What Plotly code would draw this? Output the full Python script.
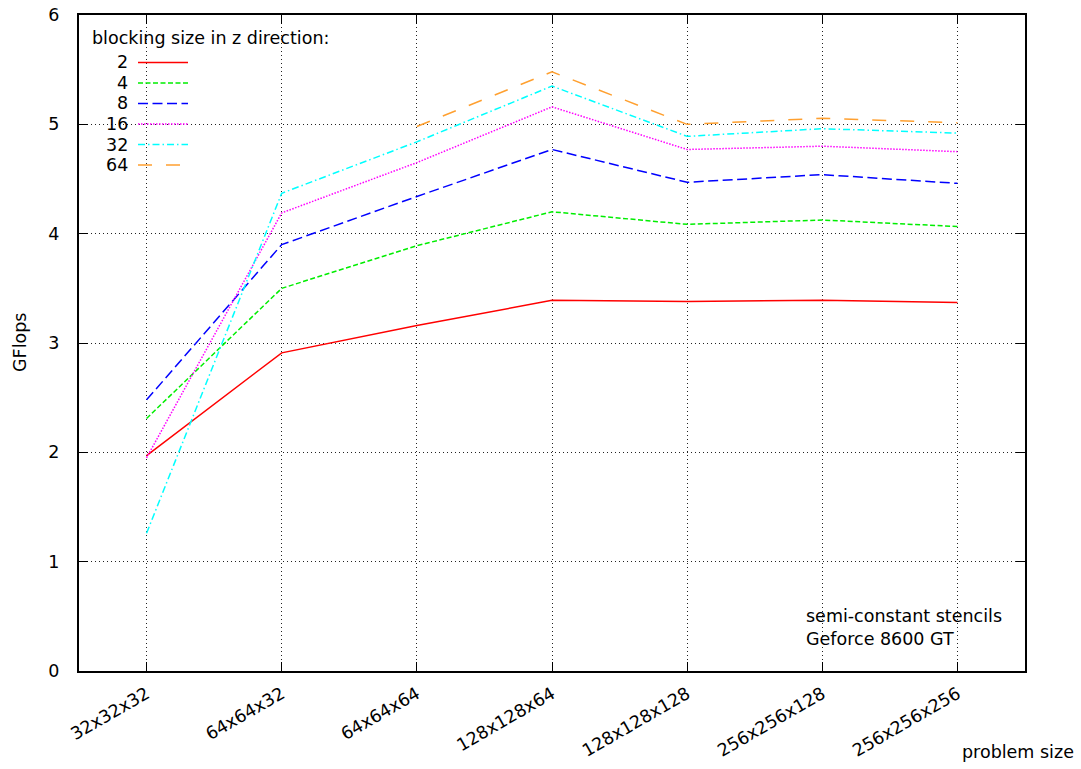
import plotly.graph_objects as go

# Problem sizes along the x axis
problem_sizes = ["32x32x32", "64x64x32", "64x64x64", "128x128x64",
                 "128x128x128", "256x256x128", "256x256x256"]

# GFlops per z-blocking size
gflops_bz2 = [1.97, 2.91, 3.16, 3.39, 3.38, 3.39, 3.37]
gflops_bz4 = [2.31, 3.50, 3.89, 4.20, 4.085, 4.125, 4.065]
gflops_bz8 = [2.48, 3.90, 4.34, 4.77, 4.47, 4.54, 4.46]
gflops_bz16 = [1.95, 4.19, 4.65, 5.16, 4.77, 4.80, 4.75]
gflops_bz32 = [1.26, 4.37, 4.84, 5.35, 4.89, 4.96, 4.92]
gflops_bz64 = [None, None, 4.98, 5.48, 5.00, 5.055, 5.015]

block_labels = ["2", "4", "8", "16", "32", "64"]
series = [gflops_bz2, gflops_bz4, gflops_bz8, gflops_bz16, gflops_bz32, gflops_bz64]
colors = ["#ff0000", "#00ee00", "#0000ff", "#ff00ff", "#00ffff", "#ffa030"]
dashes = ["solid", "5px,2.5px", "10px,4.5px", "1.5px,1.5px",
          "7px,3px,1.5px,3px", "14px,14px"]

FONT = "DejaVu Sans"
FS = 17.5

W, H = 1081, 769
L, R, T, B = 79, 1025, 15, 671


def px(x):
    return (x - L) / (R - L)


def py(y):
    return (B - y) / (B - T)


fig = go.Figure()
for lab, ys, col, dsh in zip(block_labels, series, colors, dashes):
    fig.add_trace(go.Scatter(
        x=problem_sizes, y=ys, mode="lines", name=lab,
        line=dict(color=col, width=1.5, dash=dsh),
        showlegend=False, connectgaps=False,
    ))

shapes = []
# white areas behind key and caption (hide grid there)
shapes.append(dict(type="rect", xref="paper", yref="paper",
                   x0=px(L), x1=px(331), y0=py(176), y1=py(T),
                   fillcolor="white", line=dict(width=0), layer="between"))
shapes.append(dict(type="rect", xref="paper", yref="paper",
                   x0=px(795), x1=px(1010), y0=py(652), y1=py(596),
                   fillcolor="white", line=dict(width=0), layer="between"))

annotations = []
annotations.append(dict(text="blocking size in z direction:", xref="paper", yref="paper",
                        x=px(90), y=py(38), xanchor="left", yanchor="middle",
                        showarrow=False, font=dict(family=FONT, size=FS, color="black")))
row_y = [62.5, 83, 103.5, 124, 144.5, 165]
for lab, col, dsh, yy in zip(block_labels, colors, dashes, row_y):
    annotations.append(dict(text=lab, xref="paper", yref="paper",
                            x=px(130), y=py(yy), xanchor="right", yanchor="middle",
                            showarrow=False, font=dict(family=FONT, size=FS, color="black")))
    shapes.append(dict(type="line", xref="paper", yref="paper",
                       x0=px(138), x1=px(188), y0=py(yy), y1=py(yy),
                       line=dict(color=col, width=1.5, dash=dsh), layer="above"))

annotations.append(dict(text="semi-constant stencils<br>Geforce 8600 GT", xref="paper", yref="paper",
                        x=px(804), y=py(627), xanchor="left", yanchor="middle", align="left",
                        showarrow=False, font=dict(family=FONT, size=FS, color="black")))
annotations.append(dict(text="problem size", xref="paper", yref="paper",
                        x=px(1076), y=py(752), xanchor="right", yanchor="middle",
                        showarrow=False, font=dict(family=FONT, size=FS, color="black")))
annotations.append(dict(text="GFlops", xref="paper", yref="paper",
                        x=px(20), y=py(343), xanchor="center", yanchor="middle",
                        textangle=-90,
                        showarrow=False, font=dict(family=FONT, size=FS, color="black")))

axis_common = dict(
    showline=True, linecolor="black", linewidth=2, mirror="ticks",
    ticks="inside", ticklen=9, tickwidth=1, tickcolor="black",
    showgrid=True, gridcolor="#222222", gridwidth=1, griddash="1px,3px",
    zeroline=False,
    tickfont=dict(family=FONT, size=FS, color="black"),
)

fig.update_layout(
    width=W, height=H,
    margin=dict(l=L, r=W - R, t=T, b=H - B, autoexpand=False),
    paper_bgcolor="white", plot_bgcolor="white",
    xaxis=dict(type="category", range=[-0.5, 6.5], tickangle=-30,
               ticklabelstandoff=4, **axis_common),
    yaxis=dict(range=[0, 6], dtick=1, tickvals=[0, 1, 2, 3, 4, 5, 6],
               ticklabelstandoff=14, **axis_common),
    shapes=shapes, annotations=annotations,
    showlegend=False,
)

fig.write_html("out.html")
